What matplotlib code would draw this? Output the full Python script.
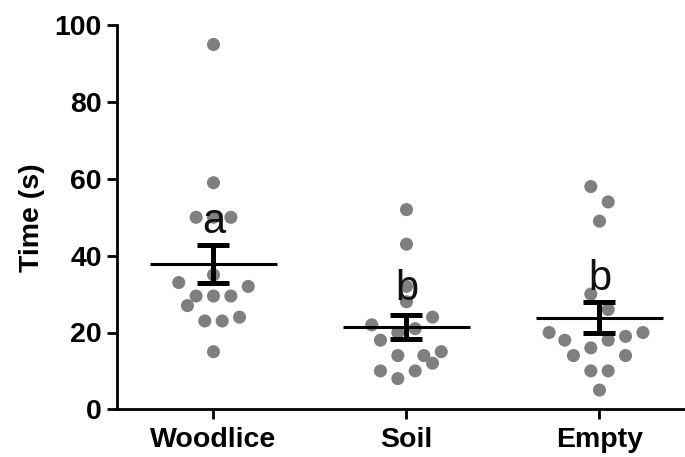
import numpy as np
import matplotlib
matplotlib.use("Agg")
import matplotlib.pyplot as plt

plt.rcParams['font.family'] = ['Liberation Sans', 'DejaVu Sans']

categories = ["Woodlice", "Soil", "Empty"]
woodlice = [95, 59, 50, 50, 50, 35, 33, 32, 29.5, 29.5, 29.5, 27, 23, 23, 24, 15]
soil = [52, 43, 32, 28, 24, 22, 21, 20, 18, 14, 14, 15, 12, 10, 10, 8]
empty = [58, 54, 49, 30, 26, 20, 19, 20, 18, 18, 16, 14, 14, 10, 10, 5]
letters = ["a", "b", "b"]
letter_y = [45.8, 28.5, 31.1]
yticks = [0, 20, 40, 60, 80, 100]

# beeswarm slot offsets (in dot widths) for each point
woodlice_slots = [0, 0, -1, 0, 1, 0, -2, 2, -1, 0, 1, -1.5, -0.5, 0.5, 1.5, 0]
soil_slots = [0, 0, 0, 0, 1.5, -2, 0.5, -0.5, -1.5, -0.5, 1, 2, 1.5, -1.5, 0.5, -0.5]
empty_slots = [-0.5, 0.5, 0, -0.5, 0.5, -2.9, 1.5, 2.5, -2, 0.5, -0.5, -1.5, 1.5, -0.5, 0.5, 0]

groups = [woodlice, soil, empty]
slots = [woodlice_slots, soil_slots, empty_slots]
slot_w = 0.09

fig = plt.figure(figsize=(6.85, 4.57), dpi=100)
ax = fig.add_axes([117/685, 47.7/457, (696-117)/685, (431.7-47.7)/457])

for i, (vals, sl) in enumerate(zip(groups, slots)):
    v = np.array(vals, dtype=float)
    x = i + np.array(sl) * slot_w
    ax.scatter(x, v, s=9.4**2, color="#7f7f7f", edgecolors="none", zorder=2)
    m = v.mean()
    sem = v.std(ddof=1) / np.sqrt(len(v))
    ax.hlines(m, i - 0.33, i + 0.33, color="black", lw=2.2, zorder=3)
    ax.errorbar(i, m, yerr=sem, fmt="none", ecolor="black", elinewidth=3.6,
                capsize=11.5, capthick=3.6, zorder=3)
    ax.text(i, letter_y[i], letters[i], ha="center", va="baseline",
            fontsize=30, color="#111111", zorder=4)

ax.set_xlim(-0.5, 2.5)
ax.set_ylim(0, 100)
ax.set_yticks(yticks)
ax.set_xticks(range(len(categories)))
ax.set_xticklabels(categories, fontsize=20.5, fontweight="bold")
ax.set_yticklabels([str(t) for t in yticks], fontsize=20.5, fontweight="bold")
ax.set_ylabel("Time (s)", fontsize=20.5, fontweight="bold", labelpad=7)
for s in ["top", "right"]:
    ax.spines[s].set_visible(False)
for s in ["left", "bottom"]:
    ax.spines[s].set_linewidth(2)
ax.tick_params(axis="both", width=2, length=7, pad=4)
ax.tick_params(axis="x", pad=6)

fig.savefig("out.png", dpi=100)
